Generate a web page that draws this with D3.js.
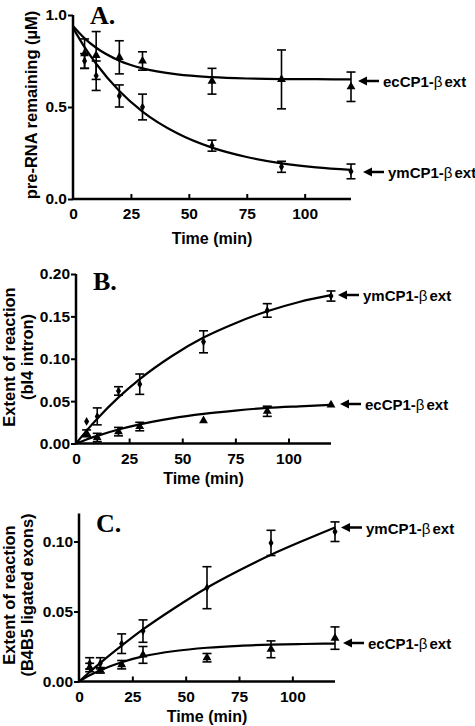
<!DOCTYPE html>
<html><head><meta charset="utf-8">
<script src="https://cdn.jsdelivr.net/npm/d3@7"></script>
<style>body{margin:0;background:#fff}svg{display:block}</style>
</head><body>
<script>
// ---------- data ----------
const times = [5, 10, 20, 30, 60, 90, 120];
const fitTimes = [0, 5, 10, 20, 30, 45, 60, 75, 90, 105, 120];
const seriesNames = ["ymCP1-", "ecCP1-"]; // followed by "βext"
const xTicks = [0, 25, 50, 75, 100];

// Panel A: pre-RNA remaining (µM)
const ymA = [0.75, 0.67, 0.56, 0.50, 0.29, 0.175, 0.15];
const ymAErr = [0.04, 0.08, 0.06, 0.07, 0.03, 0.03, 0.04];
const ecA = [0.79, 0.78, 0.77, 0.75, 0.64, 0.65, 0.61];
const ecAErr = [0.08, 0.13, 0.09, 0.05, 0.07, 0.16, 0.08];
const ymAFit = [0.93, 0.825, 0.735, 0.587, 0.475, 0.357, 0.279, 0.228, 0.194, 0.172, 0.158];
const ecAFit = [0.94, 0.873, 0.822, 0.752, 0.710, 0.677, 0.662, 0.655, 0.652, 0.651, 0.650];
const yTicksA = [0, 0.5, 1.0];

// Panel B: extent of reaction (bI4 intron)
const ymB = [0.026, 0.032, 0.062, 0.070, 0.120, 0.157, 0.174];
const ymBErr = [0, 0.010, 0.005, 0.012, 0.013, 0.008, 0.006];
const ecB = [0.012, 0.007, 0.014, 0.020, 0.027, 0.038, 0.0455];
const ecBErr = [0.004, 0.005, 0.005, 0.005, 0, 0.006, 0];
const ymBFit = [0, 0.0152, 0.0292, 0.0544, 0.076, 0.103, 0.125, 0.142, 0.156, 0.167, 0.175];
const ecBFit = [0, 0.0048, 0.009, 0.0165, 0.0226, 0.0297, 0.035, 0.0389, 0.042, 0.0439, 0.0455];
const yTicksB = [0, 0.05, 0.10, 0.15, 0.20];

// Panel C: extent of reaction (B4B5 ligated exons)
const ymC = [0.013, 0.013, 0.027, 0.036, 0.067, 0.099, 0.107];
const ymCErr = [0.004, 0.004, 0.007, 0.008, 0.015, 0.009, 0.007];
const ecC = [0.010, 0.008, 0.012, 0.019, 0.017, 0.023, 0.031];
const ecCErr = [0.003, 0.002, 0.003, 0.006, 0.003, 0.006, 0.008];
const ymCFit = [0, 0.0068, 0.0133, 0.0256, 0.0372, 0.0527, 0.067, 0.0793, 0.0905, 0.1005, 0.110];
const ecCFit = [0, 0.0044, 0.0081, 0.0138, 0.0179, 0.0218, 0.0241, 0.0255, 0.0263, 0.0268, 0.0271];
const yTicksC = [0, 0.05, 0.10];

// ---------- drawing ----------
const W = 475, H = 726;
const svg = d3.select("body").append("svg").attr("width", W).attr("height", H)
  .style("font-family", "'Liberation Sans', Arial, sans-serif");

const panels = [
  { letter: "A.", left: 73, right: 351, top: 15, bottom: 199, yMax: 1.0, yTicks: yTicksA, fmt: ".1f",
    ylab: ["pre-RNA remaining (\u00B5M)"], ylabX: [37], ylabY: 105, letterY: 24,
    series: [
      { v: ecA, e: ecAErr, fit: ecAFit, shape: "tri", name: 1, ly: 81, ax: 358 },
      { v: ymA, e: ymAErr, fit: ymAFit, shape: "dia", name: 0, ly: 172, ax: 363 }
    ], titleY: 244 },
  { letter: "B.", left: 76, right: 331, top: 274, bottom: 443.5, yMax: 0.20, yTicks: yTicksB, fmt: ".2f",
    ylab: ["Extent of reaction", "(bI4 intron)"], ylabX: [15, 33], ylabY: 357, letterY: 290,
    series: [
      { v: ymB, e: ymBErr, fit: ymBFit, shape: "dia", name: 0, ly: 295, ax: 338 },
      { v: ecB, e: ecBErr, fit: ecBFit, shape: "tri", name: 1, ly: 404, ax: 340 }
    ], titleY: 484 },
  { letter: "C.", left: 79, right: 335, top: 513.5, bottom: 681.5, yMax: 0.12, yTicks: yTicksC, fmt: ".2f",
    ylab: ["Extent of reaction", "(B4B5 ligated exons)"], ylabX: [15, 33], ylabY: 595, letterY: 532,
    series: [
      { v: ymC, e: ymCErr, fit: ymCFit, shape: "dia", name: 0, ly: 527.5, ax: 341 },
      { v: ecC, e: ecCErr, fit: ecCFit, shape: "tri", name: 1, ly: 643, ax: 343 }
    ], titleY: 722 }
];

const tri = d3.symbol().type(d3.symbolTriangle).size(34);
const dia = d3.symbol().type(d3.symbolDiamond).size(22);

panels.forEach(p => {
  const x = d3.scaleLinear().domain([0, 120]).range([p.left, p.right]);
  const y = d3.scaleLinear().domain([0, p.yMax]).range([p.bottom, p.top]);
  const g = svg.append("g");

  // y axis
  const yAxis = d3.axisLeft(y).tickValues(p.yTicks).tickFormat(d3.format(p.fmt)).tickSize(5).tickPadding(1);
  const ya = g.append("g").attr("transform", `translate(${p.left},0)`).call(yAxis);
  // x axis (ticks inward)
  const xAxis = d3.axisBottom(x).tickValues(xTicks).tickSize(0).tickPadding(9);
  const xa = g.append("g").attr("transform", `translate(0,${p.bottom})`).call(xAxis);
  [ya, xa].forEach(a => {
    a.select(".domain").attr("stroke", "#000").attr("stroke-width", 2.5);
    a.selectAll(".tick line").attr("stroke", "#000").attr("stroke-width", 2);
    a.selectAll("text").attr("fill", "#000").style("font-size", "15.5px").style("font-weight", "bold")
      .style("font-family", "'Liberation Sans', Arial, sans-serif");
  });
  ya.select(".domain").attr("d", `M0,${p.bottom}V${p.top}`);
  xa.select(".domain").attr("d", `M${p.left},0H${p.right}`);
  xa.selectAll(".tick").filter(d => d > 0).append("line")
    .attr("y1", 0).attr("y2", -5).attr("stroke", "#000").attr("stroke-width", 2);

  // x title
  g.append("text").attr("x", (p.left + p.right) / 2).attr("y", p.titleY).attr("text-anchor", "middle")
    .style("font-size", "16px").style("font-weight", "bold").text("Time (min)");
  // y title(s)
  p.ylab.forEach((t, i) => {
    g.append("text").attr("transform", `translate(${p.ylabX[i]},${p.ylabY}) rotate(-90)`)
      .attr("text-anchor", "middle").style("font-size", "16.5px").style("font-weight", "bold").text(t);
  });
  // panel letter
  g.append("text").attr("x", p.left + 17).attr("y", p.letterY)
    .style("font-family", "'Liberation Serif', 'Times New Roman', serif").style("font-weight", "bold")
    .style("font-size", "26px").text(p.letter);

  p.series.forEach(s => {
    // fit curve
    const line = d3.line().x((d, i) => x(fitTimes[i])).y(d => y(d)).curve(d3.curveMonotoneX);
    g.append("path").datum(s.fit).attr("d", line).attr("fill", "none").attr("stroke", "#000").attr("stroke-width", 2.2);
    // error bars
    const eb = g.append("g").attr("stroke", "#000").attr("stroke-width", 1.6);
    s.v.forEach((v, i) => {
      if (!s.e[i]) return;
      const cx = x(times[i]), y1 = y(v + s.e[i]), y2 = y(Math.max(0, v - s.e[i]));
      eb.append("line").attr("x1", cx).attr("x2", cx).attr("y1", y1).attr("y2", y2);
      eb.append("line").attr("x1", cx - 4.5).attr("x2", cx + 4.5).attr("y1", y1).attr("y2", y1);
      eb.append("line").attr("x1", cx - 4.5).attr("x2", cx + 4.5).attr("y1", y2).attr("y2", y2);
    });
    // markers
    g.append("g").selectAll("path").data(s.v).join("path")
      .attr("transform", (d, i) => `translate(${x(times[i])},${y(d)})`)
      .attr("d", s.shape === "tri" ? tri : dia).attr("fill", "#000");
    // arrow annotation
    const ax = s.ax, ay = s.ly;
    g.append("line").attr("x1", ax + 6).attr("x2", ax + 21).attr("y1", ay).attr("y2", ay)
      .attr("stroke", "#000").attr("stroke-width", 2.5);
    g.append("path").attr("d", `M${ax},${ay}L${ax + 9},${ay - 4.5}L${ax + 9},${ay + 4.5}Z`).attr("fill", "#000");
    const t = g.append("text").attr("x", ax + 25).attr("y", ay).attr("dominant-baseline", "central")
      .style("font-size", "15px").style("font-weight", "bold");
    t.append("tspan").text(seriesNames[s.name]);
    t.append("tspan").style("font-weight", "normal").text("\u03B2");
    t.append("tspan").attr("dx", 2).text("ext");
  });
});
</script>
</body></html>
